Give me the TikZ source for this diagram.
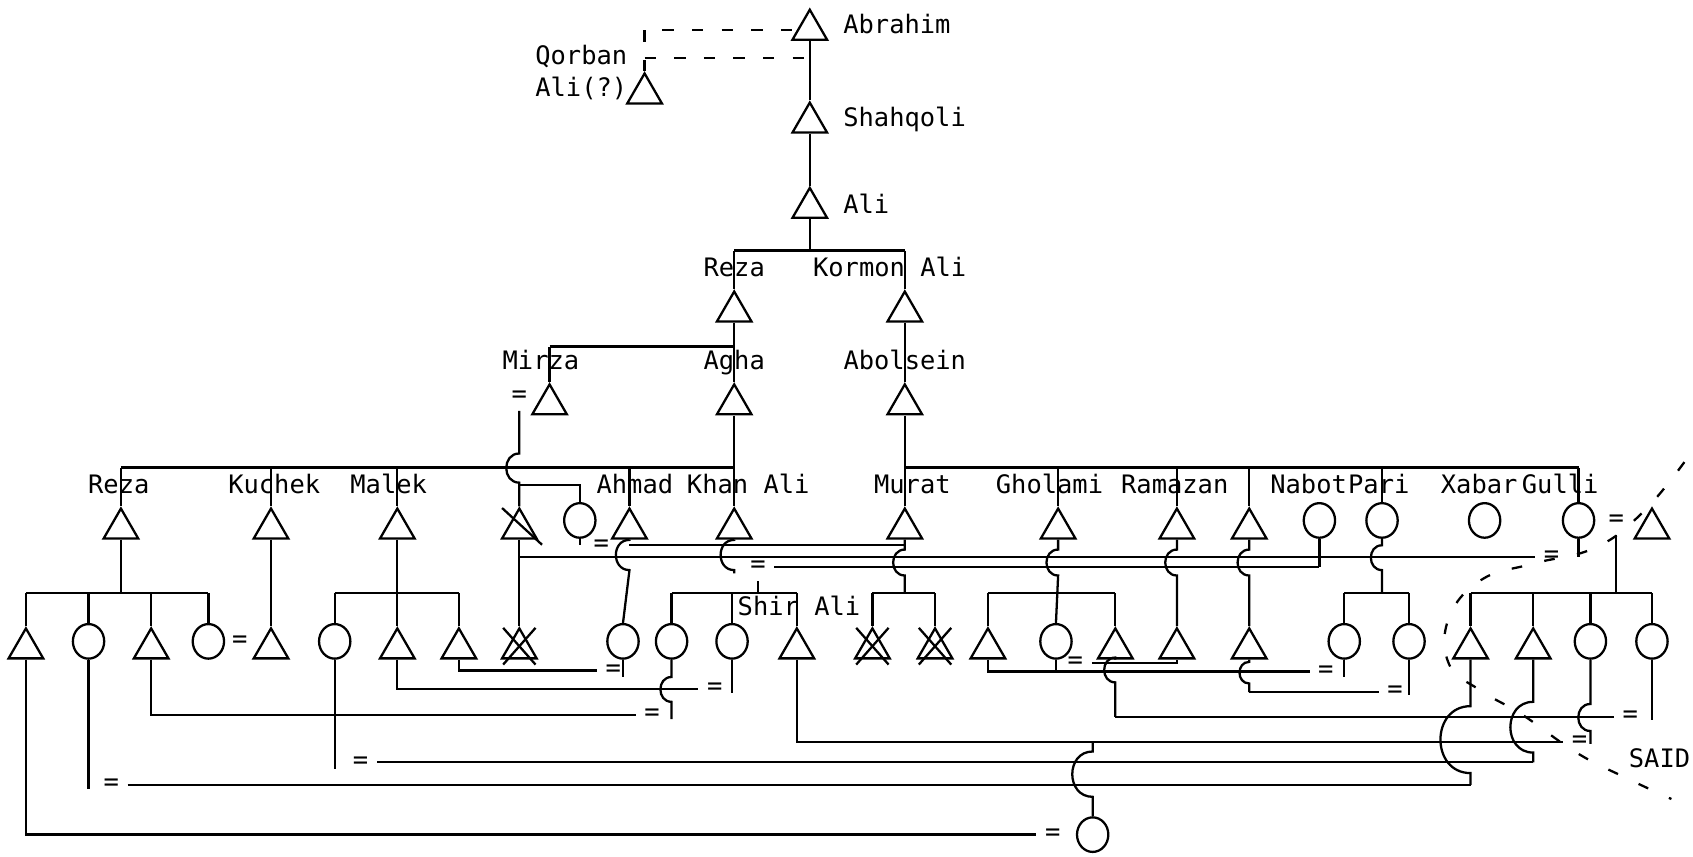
\documentclass[tikz,border=0pt]{standalone}
\usepackage{fontspec}
\setmonofont{DejaVu Sans Mono}
\usetikzlibrary{shapes.geometric}

% descent line that hops to the left over the lines it crosses
\newcommand{\hopline}[4]{%
  \draw (#1) -- (#1 |- 0,#2)
    .. controls +({-0.6*(#3-#2)},0) and +({-0.6*(#3-#2)},0) .. (#1 |- 0,#3) -- (#4);}

\begin{document}
\begin{tikzpicture}[
  x=0.01cm, y=-0.01cm,
  line width=0.6pt,
  lab/.style={font=\ttfamily\fontsize{6.7}{7}\selectfont, inner sep=0pt, anchor=base},
  male/.style={draw, regular polygon, regular polygon sides=3, minimum size=3.7mm, inner sep=0pt},
  fem/.style={draw, ellipse, minimum width=2.9mm, minimum height=3.2mm, inner sep=0pt},
  eq/.style={font=\ttfamily\fontsize{6.7}{7}\selectfont, inner sep=2pt},
  kinlink/.style={dash pattern=on 3pt off 4.8pt},
  saidline/.style={dash pattern=on 2.8pt off 6pt},
]
  \useasboundingbox (0,0) rectangle (1568,793);

  % -------- line levels --------
  \coordinate (lv2) at (0,232);
  \coordinate (lv3) at (0,321);
  \coordinate (lv4) at (0,433);
  \coordinate (br4) at (0,449);
  \coordinate (L1) at (0,505);
  \coordinate (L2) at (0,516);
  \coordinate (lv6) at (0,549);

  % -------- top of the line --------
  \node[male] (abrahim) at (750,27.5) {};
  \node[male] (shahqoli) at (750,113.5) {};
  \node[male] (ali) at (750,192.5) {};
  \node[male] (qorban) at (597,86.5) {};
  \node[lab, anchor=base west] (tAbrahim) at (780,31) {Abrahim};
  \node[lab, anchor=base west] (tShahqoli) at (780,117) {Shahqoli};
  \node[lab, anchor=base west] (tAli) at (780,198) {Ali};
  \node[lab, anchor=base east] (tQorban) at (582,60) {Qorban};
  \node[lab, anchor=base east] (tQorban2) at (582,89) {Ali(?)};

  \draw[kinlink] (qorban.north) |- (abrahim.west);
  \draw[kinlink] (qorban.north |- 0,54) -- (abrahim.south |- 0,54);
  \draw (abrahim.south) -- (shahqoli.north);
  \draw (shahqoli.south) -- (ali.north);

  % -------- sons of Ali --------
  \node[male] (reza2) at (680,288.5) {};
  \node[male] (kormon) at (838,288.5) {};
  \node[lab] (tReza2) at (680,256) {Reza};
  \node[lab] (tKormon) at (824,256) {Kormon Ali};

  \draw (ali.south) -- (ali.south |- lv2);
  \draw (reza2.north |- lv2) -- (kormon.north |- lv2);
  \draw (reza2.north |- lv2) -- (reza2.north);
  \draw (kormon.north |- lv2) -- (kormon.north);

  % -------- third generation --------
  \node[male] (mirza) at (509,374.5) {};
  \node[male] (agha) at (680,374.5) {};
  \node[male] (abolsein) at (838,374.5) {};
  \node[lab] (tMirza) at (501,342) {Mirza};
  \node[lab] (tAgha) at (680,342) {Agha};
  \node[lab] (tAbolsein) at (838,342) {Abolsein};
  \node[eq] (eqM) at (481,367) {=};

  \draw (reza2.south) -- (agha.north);
  \draw (mirza.north |- lv3) -- (agha.north |- lv3);
  \draw (mirza.north |- lv3) -- (mirza.north);
  \draw (kormon.south) -- (abolsein.north);

  % -------- fourth generation --------
  \node[male] (reza5) at (112,489.5) {};
  \node[male] (kuchek) at (251,489.5) {};
  \node[male] (malek) at (368,489.5) {};
  \node[male] (mson) at (481,489.5) {};
  \node[fem] (mdau) at (537,482) {};
  \node[male] (ahmad) at (583,489.5) {};
  \node[male] (khanali) at (680,489.5) {};
  \node[male] (murat) at (838,489.5) {};
  \node[male] (gholami) at (980,489.5) {};
  \node[male] (ramazan) at (1090,489.5) {};
  \node[male] (brother) at (1157,489.5) {};
  \node[fem] (nabot) at (1222,482) {};
  \node[fem] (pari) at (1280,482) {};
  \node[fem] (xabar) at (1375,482) {};
  \node[fem] (gulli) at (1462,482) {};
  \node[male] (said) at (1530,489.5) {};

  \node[lab] (tReza5) at (110,457) {Reza};
  \node[lab] (tKuchek) at (254,457) {Kuchek};
  \node[lab] (tMalek) at (360,457) {Malek};
  \node[lab] (tAhmad) at (588,457) {Ahmad};
  \node[lab] (tKhanAli) at (693,457) {Khan Ali};
  \node[lab] (tMurat) at (845,457) {Murat};
  \node[lab] (tGholami) at (972,457) {Gholami};
  \node[lab] (tRamazan) at (1088,457) {Ramazan};
  \node[lab] (tNabot) at (1212,457) {Nabot};
  \node[lab] (tPari) at (1277,457) {Pari};
  \node[lab] (tXabar) at (1370,457) {Xabar};
  \node[lab] (tGulli) at (1445,457) {Gulli};

  \node[eq] (eqMd) at (557,505) {=};
  \node[eq] (eqK) at (702,525) {=};
  \node[eq] (eqGu) at (1437,516) {=};
  \node[eq] (eqG) at (1497,482) {=};

  \draw (agha.south) -- (khanali.north);
  \draw (reza5.north |- lv4) -- (khanali.north |- lv4);
  \foreach \p in {reza5, kuchek, malek, ahmad}
    \draw (\p.north |- lv4) -- (\p.north);
  \draw (abolsein.south) -- (murat.north);
  \draw (murat.north |- lv4) -- (gulli.north |- lv4);
  \foreach \p in {gholami, ramazan, brother, pari, gulli}
    \draw (\p.north |- lv4) -- (\p.north);

  % Mirza's line
  \hopline{eqM.south}{420}{447}{mson.north}
  \draw (eqM.south |- br4) -| (mdau.north);
  \draw (mson) ++(-16,-19) -- ++(37,34);

  % -------- fifth generation --------
  \node[male] (r1) at (24,600.5) {};
  \node[fem] (r2) at (82,594) {};
  \node[male] (r3) at (140,600.5) {};
  \node[fem] (r4) at (193,594) {};
  \node[eq] (eqRK) at (222,594) {=};
  \node[male] (kson) at (251,600.5) {};
  \node[fem] (m1) at (310,594) {};
  \node[male] (m2) at (368,600.5) {};
  \node[male] (m3) at (425,600.5) {};
  \node[male] (xx) at (481,600.5) {};
  \node[fem] (ad) at (577,594) {};
  \node[fem] (k1) at (622,594) {};
  \node[fem] (k2) at (678,594) {};
  \node[male] (shir) at (738,600.5) {};
  \node[lab] (tShir) at (740,570) {Shir Ali};
  \node[male] (mu1) at (808,600.5) {};
  \node[male] (mu2) at (866,600.5) {};
  \node[male] (g1) at (915,600.5) {};
  \node[fem] (g2) at (978,594) {};
  \node[male] (g3) at (1033,600.5) {};
  \node[male] (ramson) at (1090,600.5) {};
  \node[male] (unson) at (1157,600.5) {};
  \node[fem] (p1) at (1245,594) {};
  \node[fem] (p2) at (1305,594) {};
  \node[male] (gu1) at (1362,600.5) {};
  \node[male] (gu2) at (1420,600.5) {};
  \node[fem] (gu3) at (1473,594) {};
  \node[fem] (gu4) at (1530,594) {};

  % crossed out
  \foreach \p in {xx, mu1, mu2} {
    \draw (\p) ++(-15,-19) -- ++(30,34);
    \draw (\p) ++(15,-19) -- ++(-30,34);
  }

  % marriages between the fourth generation
  \draw (mdau.south) -- ++(0,6);
  \draw (ahmad.south |- L1) -- (murat.south |- L1);
  \draw (mson.south) -- (xx.north);
  \draw (mson.south |- L2) -- (eqGu.west);
  \draw (gulli.south) -- (gulli.south |- eqGu.west);
  \draw (eqK.east) -- (nabot.south |- eqK.east);
  \draw (nabot.south) -- (nabot.south |- eqK.east);

  % descent lines
  \draw (reza5.south) -- (reza5.south |- lv6);
  \draw (r1.north |- lv6) -- (r4.north |- lv6);
  \foreach \c in {r1, r2, r3, r4}
    \draw (\c.north |- lv6) -- (\c.north);
  \draw (kuchek.south) -- (kson.north);
  \draw (malek.south) -- (m2.north);
  \draw (m1.north |- lv6) -- (m3.north |- lv6);
  \foreach \c in {m1, m3}
    \draw (\c.north |- lv6) -- (\c.north);
  \hopline{ahmad.south}{500}{528}{ad.north}
  \hopline{khanali.south}{500}{528}{khanali.south |- 0,531}
  \draw (eqK.south) -- (eqK.south |- lv6);
  \draw (k1.north |- lv6) -- (shir.north |- lv6);
  \foreach \c in {k1, k2, shir}
    \draw (\c.north |- lv6) -- (\c.north);
  \hopline{murat.south}{509}{533}{murat.south |- lv6}
  \draw (mu1.north |- lv6) -- (mu2.north |- lv6);
  \foreach \c in {mu1, mu2}
    \draw (\c.north |- lv6) -- (\c.north);
  \hopline{gholami.south}{509}{533}{g2.north}
  \draw (g1.north |- lv6) -- (g3.north |- lv6);
  \foreach \c in {g1, g3}
    \draw (\c.north |- lv6) -- (\c.north);
  \hopline{ramazan.south}{509}{533}{ramson.north}
  \hopline{brother.south}{509}{533}{unson.north}
  \hopline{pari.south}{505}{528}{pari.south |- lv6}
  \draw (p1.north |- lv6) -- (p2.north |- lv6);
  \foreach \c in {p1, p2}
    \draw (\c.north |- lv6) -- (\c.north);
  \draw (eqG.south) -- (eqG.south |- lv6);
  \draw (gu1.north |- lv6) -- (gu4.north |- lv6);
  \foreach \c in {gu1, gu2, gu3, gu4}
    \draw (\c.north |- lv6) -- (\c.north);

  % -------- marriages of the fifth generation --------
  \node[eq] (e1) at (568,621) {=};
  \node[eq] (e2) at (662,638) {=};
  \node[eq] (e3) at (604,662) {=};
  \node[eq] (e4) at (1463,687) {=};
  \node[eq] (e5) at (334,706) {=};
  \node[eq] (e6) at (103,727) {=};
  \node[eq] (e7) at (1510,664) {=};
  \node[eq] (e8) at (996,614) {=};
  \node[eq] (e9) at (1228,622) {=};
  \node[eq] (e10) at (1292,641) {=};
  \node[eq] (e11) at (975,773) {=};
  \node[fem] (bc) at (1012,773) {};

  \draw (m3.south) |- (e1.west);
  \draw (ad.south) -- (ad.south |- 0,627);
  \draw (m2.south) |- (e2.west);
  \draw (k2.south) -- (k2.south |- 0,642);
  \draw (r3.south) |- (e3.west);
  \hopline{k1.south}{627}{650}{k1.south |- 0,666}
  \draw (shir.south) |- (e4.west);
  \hopline{gu3.south}{652}{677}{gu3.south |- 0,689}
  \draw (m1.south) -- (m1.south |- 0,712);
  \draw (e5.east) -- (gu2.south |- e5.east);
  \hopline{gu2.south}{650}{697}{gu2.south |- e5.east}
  \draw (r2.south) -- (r2.south |- 0,731);
  \draw (e6.east) -- (gu1.south |- e6.east);
  \hopline{gu1.south}{654}{716}{gu1.south |- e6.east}
  \hopline{g3.south}{609}{632}{g3.south |- e7.west}
  \draw (g3.south |- e7.west) -- (e7.west);
  \draw (gu4.south) -- (gu4.south |- 0,667);
  \draw (g2.south) -- (g2.south |- 0,623);
  \draw (e8.east) -| (ramson.south);
  \draw (g1.south) |- (e9.west);
  \draw (p1.south) -- (p1.south |- 0,627);
  \hopline{unson.south}{613}{633}{unson.south |- e10.west}
  \draw (unson.south |- e10.west) -- (e10.west);
  \draw (p2.south) -- (p2.south |- 0,644);
  \draw (r1.south) |- (e11.west);
  \hopline{bc.north |- e4.west}{696}{738}{bc.north}

  % -------- SAID --------
  \draw[saidline] plot[smooth, tension=0.7] coordinates {(1560,428) (1522,474) (1478,507) (1420,522) (1372,537) (1342,572) (1342,615) (1372,640) (1410,662) (1460,697) (1505,720) (1548,740)};
  \node[lab] (tSaid) at (1537,711) {SAID};
\end{tikzpicture}
\end{document}
